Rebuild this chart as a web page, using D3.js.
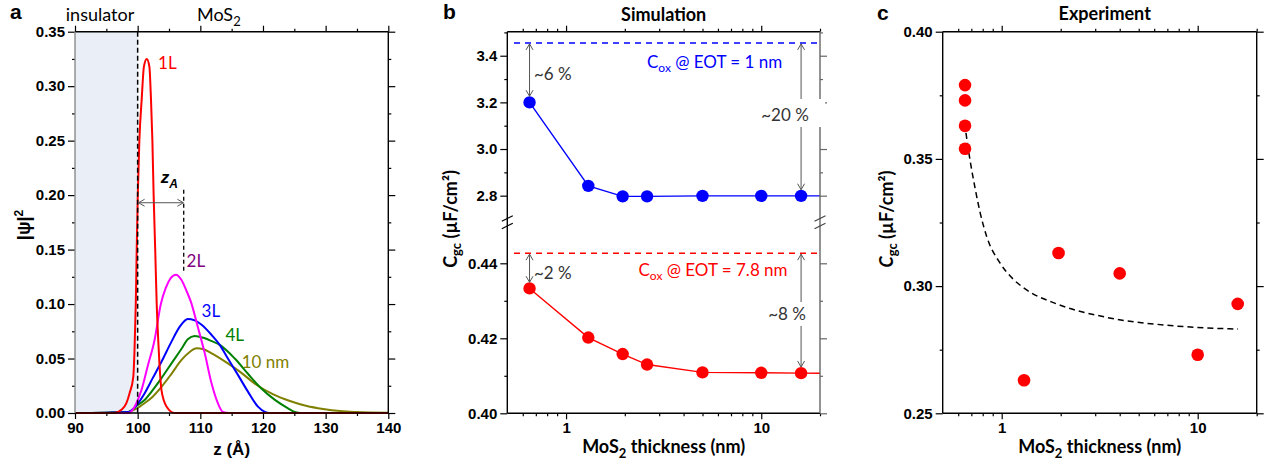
<!DOCTYPE html>
<html><head><meta charset="utf-8">
<script src="https://cdn.jsdelivr.net/npm/d3@7"></script>
<style>
body{margin:0;background:#fff;}
svg{display:block;}
.tick text{font-family:"Liberation Sans",Arial,sans-serif;font-weight:bold;font-size:15px;fill:#000;}
</style></head><body>
<svg id="chart" width="1271" height="464"></svg>
<script>
// ---------------- DATA ----------------
// Panel a: |psi|^2 vs z (Å)
const psi1L = [[90,0],[95,0],[96.3,0],[97.4,0.003],[98.2,0.009],[98.7,0.018],[99.3,0.033],[99.5,0.058],[99.7,0.10],[99.85,0.15],[100.02,0.20],[100.27,0.25],[100.64,0.2875],[101.0,0.318],[101.45,0.325],[101.87,0.318],[102.13,0.2875],[102.35,0.25],[102.55,0.20],[102.8,0.15],[103.04,0.10],[103.3,0.065],[103.5,0.043],[103.8,0.021],[104.6,0.006],[105.9,0],[140,0]];
const psi2L = [[90,0],[98.5,0],[99.8,0.009],[100.6,0.021],[101.6,0.043],[102.7,0.067],[103.7,0.100],[104.5,0.115],[105.3,0.124],[106.1,0.127],[107,0.122],[107.8,0.112],[108.5,0.102],[109.6,0.079],[110.7,0.055],[111.8,0.027],[112.8,0.009],[113.6,0.001],[114.5,0],[140,0]];
const psi3L = [[90,0],[98.5,0.001],[99.8,0.007],[101.1,0.018],[102.4,0.032],[103.8,0.047],[105.4,0.0655],[106.7,0.079],[108.0,0.0863],[109.1,0.085],[110.2,0.081],[111.8,0.0716],[113.1,0.0625],[114.4,0.050],[116.0,0.035],[117.6,0.0196],[119.2,0.0058],[120.3,0.001],[121,0],[140,0]];
const psi4L = [[90,0],[98.5,0.001],[99.8,0.0064],[101.1,0.012],[102.4,0.021],[103.8,0.032],[105.4,0.0456],[107,0.059],[108.0,0.0677],[109.1,0.0707],[110.5,0.069],[111.8,0.066],[113.1,0.0625],[115.5,0.050],[117.6,0.036],[119.7,0.0227],[121.9,0.012],[124.0,0.0043],[125.1,0.001],[126,0],[140,0]];
const psi10nm = [[90,0],[98.5,0.001],[99.8,0.004],[101.1,0.009],[102.4,0.015],[103.8,0.024],[105.4,0.036],[107,0.0487],[108.3,0.056],[109.4,0.0594],[110.5,0.0585],[111.8,0.0548],[114.4,0.0456],[116.3,0.038],[119.0,0.0257],[121.65,0.0171],[124.3,0.011],[127,0.0064],[129.6,0.0037],[132.3,0.0018],[134.9,0.0009],[140,0.0002]];
const curveLabels = ["1L","2L","3L","4L","10 nm"];
const curveColors = ["#ff0000","#ff00ff","#0000ff","#008000","#808000"];
const zTicks = [90,100,110,120,130,140];
const psiTicks = [0,0.05,0.10,0.15,0.20,0.25,0.30,0.35];

// Panel b: simulation
const thicknessSim = [0.65,1.3,1.95,2.6,5,10,16];
const cgcEOT1 = [3.20,2.842,2.797,2.797,2.799,2.799,2.799];
const cgcEOT78 = [0.4333,0.4202,0.4158,0.4130,0.4109,0.4108,0.4107];
const coxEOT1 = 3.455;
const coxEOT78 = 0.4427;
const lineEndThickness = 20;
const upperTicks = [2.8,3.0,3.2,3.4];
const lowerTicks = [0.40,0.42,0.44];

// Panel c: experiment
const thicknessExp = [0.65,0.65,0.65,0.65,1.3,1.95,4,10,16];
const cgcExp = [0.379,0.373,0.363,0.354,0.263,0.313,0.305,0.273,0.293];
const fitThickness = [0.657,0.689,0.731,0.775,0.839,0.980,1.142,1.341,1.908,3.434,7.51,16.06];
const fitCgc = [0.3602,0.3496,0.3386,0.3291,0.3194,0.3091,0.3028,0.2985,0.2930,0.2877,0.2844,0.2831];
const expTicks = [0.25,0.30,0.35,0.40];
const logMajor = [1,10];
const logMinor = [0.6,0.7,0.8,0.9,2,3,4,5,6,7,8,9,20];

// ---------------- HELPERS ----------------
const svg = d3.select('#chart');
const LF = "Lato, 'Open Sans', sans-serif";
const TF = "'Liberation Sans', Arial, sans-serif";

function addAxis(gen, tx, ty, values, size, fmt, color) {
  gen.tickValues(values).tickSize(size).tickSizeOuter(0).tickPadding(3).tickFormat(fmt || (() => ""));
  const s = svg.append('g').attr('transform', `translate(${tx},${ty})`).call(gen);
  s.select('.domain').remove();
  s.selectAll('.tick line').attr('stroke', color || '#000').attr('stroke-width', 1.2);
  return s;
}
function frameLine(x1,y1,x2,y2,color) {
  svg.append('line').attr('x1',x1).attr('y1',y1).attr('x2',x2).attr('y2',y2)
    .attr('stroke', color || '#000').attr('stroke-width',1.4);
}
function txt(x,y,str,opt={}) {
  return svg.append('text').attr('x',x).attr('y',y).text(str)
    .attr('font-family', opt.family || LF).attr('font-size', opt.size || 17)
    .attr('font-weight', opt.weight || 'normal').attr('font-style', opt.style || 'normal')
    .attr('fill', opt.fill || '#000').attr('text-anchor', opt.anchor || 'start');
}
const defs = svg.append('defs');
defs.append('marker').attr('id','arr').attr('viewBox','-8 -5 10 10').attr('refX',0).attr('refY',0)
  .attr('markerWidth',10).attr('markerHeight',10).attr('markerUnits','userSpaceOnUse')
  .attr('orient','auto-start-reverse')
  .append('path').attr('d','M-6,-3.5 L0,0 L-6,3.5').attr('fill','none').attr('stroke','#555').attr('stroke-width',1);
function dArrow(x1,y1,x2,y2) {
  svg.append('line').attr('x1',x1).attr('y1',y1).attr('x2',x2).attr('y2',y2)
    .attr('stroke','#555').attr('stroke-width',1)
    .attr('marker-start','url(#arr)').attr('marker-end','url(#arr)');
}

// ---------------- PANEL A ----------------
const aL=75, aR=388.3, aT=31.7, aB=413;
const xA = d3.scaleLinear().domain([90,140]).range([aL,aR]);
const yA = d3.scaleLinear().domain([0,0.35]).range([aB,aT]);

svg.append('rect').attr('x',xA(90)).attr('y',aT).attr('width',xA(100)-xA(90)).attr('height',aB-aT).attr('fill','#e9eef7');

const lineA = d3.line().x(d=>xA(d[0])).y(d=>yA(d[1])).curve(d3.curveMonotoneX);
const seriesA = [psi1L,psi2L,psi3L,psi4L,psi10nm];
[4,3,2,1,0].forEach(i => {
  svg.append('path').attr('d', lineA(seriesA[i])).attr('fill','none')
    .attr('stroke', curveColors[i]).attr('stroke-width',2);
});
svg.append('line').attr('x1',xA(100)).attr('x2',xA(100)).attr('y1',aT).attr('y2',aB)
  .attr('stroke','#000').attr('stroke-width',1.5).attr('stroke-dasharray','5,3');

addAxis(d3.axisBottom(xA), 0, aB, zTicks, 6, d=>d);
addAxis(d3.axisBottom(xA), 0, aB, [95,105,115,125,135], 3);
addAxis(d3.axisTop(xA), 0, aT, zTicks, 6);
addAxis(d3.axisTop(xA), 0, aT, [95,105,115,125,135], 3);
addAxis(d3.axisLeft(yA), aL, 0, psiTicks, 7, d3.format('.2f'));
addAxis(d3.axisLeft(yA), aL, 0, [0.025,0.075,0.125,0.175,0.225,0.275,0.325], 3);
addAxis(d3.axisRight(yA), aR, 0, psiTicks, 7);
addAxis(d3.axisRight(yA), aR, 0, [0.025,0.075,0.125,0.175,0.225,0.275,0.325], 3);
frameLine(aL,aT,aR,aT); frameLine(aL,aB,aR,aB); frameLine(aR,aT,aR,aB); frameLine(aL,aT,aL,aB,'#8a8a8a');

const labPos = [[103.25,0.316],[107.8,0.134],[110.2,0.088],[114.0,0.066],[116.6,0.041]];
const labCols = ["#ff0000","#800080","#0000ff","#008000","#808000"];
labPos.forEach((p,i)=> txt(xA(p[0]), yA(p[1]), curveLabels[i], {fill: labCols[i]}));
dArrow(xA(100.15), yA(0.193), xA(107.3), yA(0.193));
svg.append('line').attr('x1',xA(107.35)).attr('x2',xA(107.35)).attr('y1',yA(0.205)).attr('y2',yA(0.128))
  .attr('stroke','#000').attr('stroke-width',1.3).attr('stroke-dasharray','4,3');
const za = txt(xA(103.7), yA(0.211), 'z', {weight:'bold', style:'italic', family:TF, size:17});
za.append('tspan').attr('dy',5).attr('font-size',12).text('A');
txt(100, 20.7, 'insulator', {anchor:'middle', size:18});
const mos = txt(197, 20.7, 'MoS', {size:18});
mos.append('tspan').attr('dy',5).attr('font-size',13).text('2');
txt(10, 18.5, 'a', {family:TF, weight:'bold', size:21});
txt((aL+aR)/2, 455, 'z (Å)', {family:TF, weight:'bold', size:17, anchor:'middle'});
const psiLab = svg.append('text').attr('transform','translate(30,225) rotate(-90)')
  .attr('text-anchor','middle').attr('font-family',TF).attr('font-weight','bold').attr('font-size',18).text('|ψ|');
psiLab.append('tspan').attr('dy',-7).attr('font-size',12).text('2');

// ---------------- PANEL B ----------------
const bL=507.3, bR=820, bT=31.7, bB=413.3;
const xB = d3.scaleLog().domain([0.5,20]).range([bL,bR]);
const yBu = d3.scaleLinear().domain([2.7,3.5]).range([219,32.4]);
const yBl = d3.scaleLinear().domain([0.40,0.45]).range([bB,225.8]);

svg.append('line').attr('x1',514).attr('x2',bR).attr('y1',yBu(coxEOT1)).attr('y2',yBu(coxEOT1))
  .attr('stroke','#0000ff').attr('stroke-width',1.5).attr('stroke-dasharray','6,5');
svg.append('line').attr('x1',514).attr('x2',bR).attr('y1',yBl(coxEOT78)).attr('y2',yBl(coxEOT78))
  .attr('stroke','#ff0000').attr('stroke-width',1.5).attr('stroke-dasharray','6,5');

const simUpper = thicknessSim.map((t,i)=>[t,cgcEOT1[i]]);
const simLower = thicknessSim.map((t,i)=>[t,cgcEOT78[i]]);
const lineBu = d3.line().x(d=>xB(d[0])).y(d=>yBu(d[1]));
const lineBl = d3.line().x(d=>xB(d[0])).y(d=>yBl(d[1]));
svg.append('path').attr('d', lineBu(simUpper.concat([[lineEndThickness, cgcEOT1[cgcEOT1.length-1]]])))
  .attr('fill','none').attr('stroke','#0000ff').attr('stroke-width',1.4);
svg.append('path').attr('d', lineBl(simLower.concat([[lineEndThickness, cgcEOT78[cgcEOT78.length-1]]])))
  .attr('fill','none').attr('stroke','#ff0000').attr('stroke-width',1.4);
svg.append('g').selectAll('circle').data(simUpper).join('circle')
  .attr('cx',d=>xB(d[0])).attr('cy',d=>yBu(d[1])).attr('r',6.2).attr('fill','#0000ff');
svg.append('g').selectAll('circle').data(simLower).join('circle')
  .attr('cx',d=>xB(d[0])).attr('cy',d=>yBl(d[1])).attr('r',6.2).attr('fill','#ff0000');

addAxis(d3.axisBottom(xB), 0, bB, logMajor, 6, d=>d);
addAxis(d3.axisBottom(xB), 0, bB, logMinor, 3);
addAxis(d3.axisTop(xB), 0, bT, logMajor, 6);
addAxis(d3.axisTop(xB), 0, bT, logMinor, 3);
addAxis(d3.axisLeft(yBu), bL, 0, upperTicks, 7, d3.format('.1f'));
addAxis(d3.axisLeft(yBu), bL, 0, [2.9,3.1,3.3,3.5], 3);
addAxis(d3.axisLeft(yBl), bL, 0, lowerTicks, 7, d3.format('.2f'));
addAxis(d3.axisLeft(yBl), bL, 0, [0.41,0.43], 3);
addAxis(d3.axisRight(yBu), bR, 0, upperTicks, 7, null, '#666');
addAxis(d3.axisRight(yBu), bR, 0, [2.9,3.1,3.3,3.5], 3, null, '#666');
addAxis(d3.axisRight(yBl), bR, 0, lowerTicks, 7, null, '#666');
addAxis(d3.axisRight(yBl), bR, 0, [0.41,0.43], 3, null, '#666');
frameLine(bL,bT,bR,bT); frameLine(bL,bB,bR,bB); frameLine(bL,bT,bL,bB); frameLine(bR,bT,bR,bB,'#666');
[[bL,'#000'],[bR,'#444']].forEach(([x,c])=>{
  [218.5,226].forEach(y=>{
    svg.append('line').attr('x1',x-5.5).attr('y1',y+2.8).attr('x2',x+5.5).attr('y2',y-2.8)
      .attr('stroke',c).attr('stroke-width',1.2);
  });
});

const r = 6.2;
dArrow(xB(thicknessSim[0]), yBu(coxEOT1)+1, xB(thicknessSim[0]), yBu(cgcEOT1[0])-r);
dArrow(xB(thicknessSim[6]), yBu(coxEOT1)+1, xB(thicknessSim[6]), yBu(cgcEOT1[6])-r);
dArrow(xB(thicknessSim[0]), yBl(coxEOT78)+1, xB(thicknessSim[0]), yBl(cgcEOT78[0])-r);
dArrow(xB(thicknessSim[6]), yBl(coxEOT78)+1, xB(thicknessSim[6]), yBl(cgcEOT78[6])-r);
svg.append('rect').attr('x',758).attr('y',99).attr('width',67).attr('height',28).attr('fill','#fff');
svg.append('rect').attr('x',766).attr('y',302).attr('width',44).attr('height',24).attr('fill','#fff');
txt(534, 80, '~6 %', {fill:'#333'});
txt(534, 279, '~2 %', {fill:'#333'});
txt(785, 121, '~20 %', {fill:'#333', anchor:'middle'});
txt(787, 320, '~8 %', {fill:'#333', anchor:'middle'});
const c1 = txt(647, 68, 'C', {fill:'#0000ff'});
c1.append('tspan').attr('dy',4).attr('font-size',12).text('ox');
c1.append('tspan').attr('dy',-4).text(' @ EOT = 1 nm');
const c2 = txt(638.5, 276, 'C', {fill:'#ff0000'});
c2.append('tspan').attr('dy',4).attr('font-size',12).text('ox');
c2.append('tspan').attr('dy',-4).text(' @ EOT = 7.8 nm');

txt(443, 18.5, 'b', {family:TF, weight:'bold', size:21});
txt((bL+bR)/2, 21, 'Simulation', {weight:'bold', anchor:'middle', size:18});
const xtb = txt((bL+bR)/2, 453, 'MoS', {weight:'bold', anchor:'middle', size:18});
xtb.append('tspan').attr('dy',5).attr('font-size',13).text('2');
xtb.append('tspan').attr('dy',-5).text(' thickness (nm)');
const ylb = svg.append('text').attr('transform','translate(457,219) rotate(-90)').attr('text-anchor','middle')
  .attr('font-family',LF).attr('font-weight','bold').attr('font-size',18).text('C');
ylb.append('tspan').attr('dy',4).attr('font-size',13).text('gc');
ylb.append('tspan').attr('dy',-4).text(' (µF/cm²)');

// ---------------- PANEL C ----------------
const cL=942.7, cR=1256.7, cT=31.7, cB=413.3;
const xC = d3.scaleLog().domain([0.5,20]).range([cL,cR]);
const yC = d3.scaleLinear().domain([0.25,0.40]).range([cB,cT]);
const fitPts = fitThickness.map((t,i)=>[t,fitCgc[i]]);
svg.append('path').attr('d', d3.line().x(d=>xC(d[0])).y(d=>yC(d[1])).curve(d3.curveMonotoneX)(fitPts))
  .attr('fill','none').attr('stroke','#000').attr('stroke-width',1.5).attr('stroke-dasharray','6,4');
svg.append('g').selectAll('circle').data(thicknessExp.map((t,i)=>[t,cgcExp[i]])).join('circle')
  .attr('cx',d=>xC(d[0])).attr('cy',d=>yC(d[1])).attr('r',6.3).attr('fill','#ff0000');

addAxis(d3.axisBottom(xC), 0, cB, logMajor, 6, d=>d);
addAxis(d3.axisBottom(xC), 0, cB, logMinor, 3);
addAxis(d3.axisTop(xC), 0, cT, logMajor, 6);
addAxis(d3.axisTop(xC), 0, cT, logMinor, 3);
addAxis(d3.axisLeft(yC), cL, 0, expTicks, 7, d3.format('.2f'));
addAxis(d3.axisLeft(yC), cL, 0, [0.275,0.325,0.375], 3);
addAxis(d3.axisRight(yC), cR, 0, expTicks, 7);
addAxis(d3.axisRight(yC), cR, 0, [0.275,0.325,0.375], 3);
frameLine(cL,cT,cR,cT); frameLine(cL,cB,cR,cB); frameLine(cL,cT,cL,cB); frameLine(cR,cT,cR,cB);

txt(877, 20, 'c', {family:TF, weight:'bold', size:21});
txt((cL+cR)/2+5, 20, 'Experiment', {weight:'bold', anchor:'middle', size:18});
const xtc = txt((cL+cR)/2, 453, 'MoS', {weight:'bold', anchor:'middle', size:18});
xtc.append('tspan').attr('dy',5).attr('font-size',13).text('2');
xtc.append('tspan').attr('dy',-5).text(' thickness (nm)');
const ylc = svg.append('text').attr('transform','translate(893,219) rotate(-90)').attr('text-anchor','middle')
  .attr('font-family',LF).attr('font-weight','bold').attr('font-size',18);
ylc.append('tspan').attr('font-style','italic').text('C');
ylc.append('tspan').attr('dy',4).attr('font-size',13).text('gc');
ylc.append('tspan').attr('dy',-4).text(' (µF/cm²)');
</script>
</body></html>
